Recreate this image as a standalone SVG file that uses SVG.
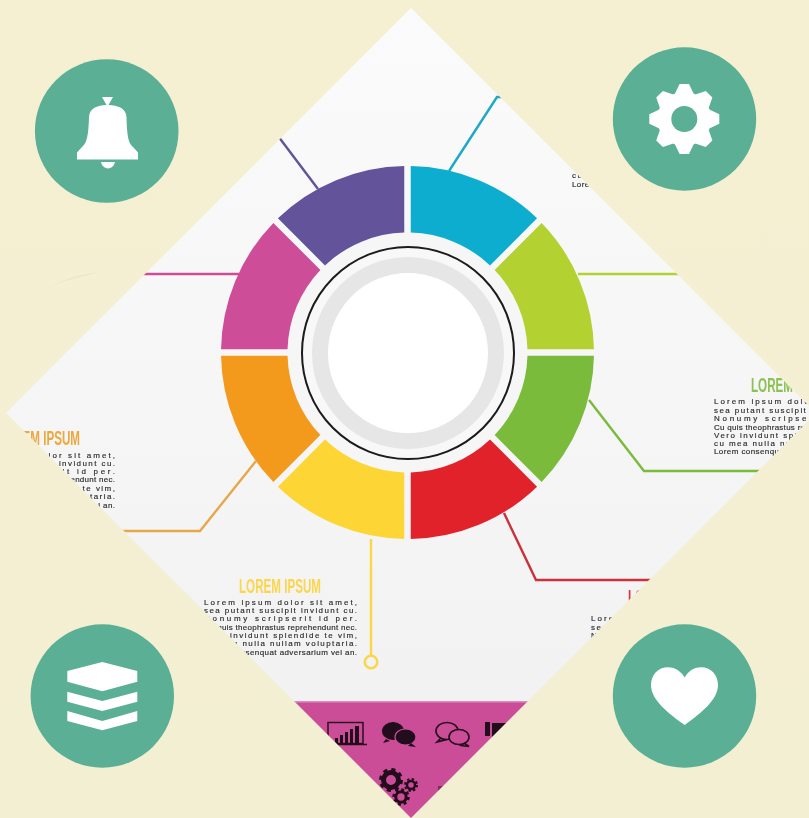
<svg xmlns="http://www.w3.org/2000/svg" width="809" height="818" viewBox="0 0 809 818">
<style>
.disc{fill:#5BAF95}
.glyph{fill:#fff}
.wire{fill:none;stroke-width:2.4}
.t{font-family:"Liberation Sans",Arial,sans-serif;font-size:8px;fill:#2a2a2a;stroke:#2a2a2a;stroke-width:.15}
.h{font-family:"Liberation Sans",Arial,sans-serif;font-size:19.5px;font-weight:bold}
.ic{fill:#24091c}
.ol{fill:#CB4E97;stroke:#24091c;stroke-width:1.6}
</style>
<defs>
<linearGradient id="bg" x1="0" y1="0" x2="0" y2="1"><stop offset="0" stop-color="#F6F0D3"/><stop offset="1" stop-color="#F3EFD2"/></linearGradient>
<linearGradient id="paper" x1="0" y1="0" x2="0" y2="1"><stop offset="0" stop-color="#FBFBFB"/><stop offset="1" stop-color="#F2F2F3"/></linearGradient>
<clipPath id="diamond"><polygon points="411,8 816,413 411,818 6,413"/></clipPath>
<filter id="soft" x="-5%" y="-5%" width="110%" height="110%"><feGaussianBlur stdDeviation="0.45"/></filter>
<path id="seg" d="M3.25,-186.47A186.5,186.5 0 0 1 129.55,-134.15L82.52,-87.12A120,120 0 0 0 3.25,-119.96Z"/>
<polygon id="tooth" points="-9.5,-25 -4.7,-35 4.7,-35 9.5,-25"/>
</defs>
<rect width="809" height="818" fill="url(#bg)"/>
<path d="M48 288Q72 274 100 272Q76 278 62 282Z" fill="#E9E4C6" opacity=".7"/>
<g id="poster" clip-path="url(#diamond)">
<g filter="url(#soft)">
<rect x="0" y="0" width="820" height="702" fill="url(#paper)"/>
<rect x="0" y="701" width="820" height="117" fill="#CB4E97"/>
<rect x="0" y="701" width="820" height="1.5" fill="#E08CBD"/>
<g id="connectors">
<polyline class="wire" stroke="#1FA8C6" points="449,171 497,97 520,97"/>
<polyline class="wire" stroke="#62529B" points="318,189 275,132"/>
<polyline class="wire" stroke="#CD4D98" points="239,274 130,274"/>
<polyline class="wire" stroke="#B3D232" points="578,274 678,274"/>
<polyline class="wire" stroke="#7ABB3A" points="589,400 644,471 780,471"/>
<polyline class="wire" stroke="#C9303A" points="504,513 536,580 670,580"/>
<polyline class="wire" stroke="#FAD64A" stroke-width="2.8" points="371,539 371,655"/>
<polyline class="wire" stroke="#E6A84A" points="256,461 200,531 100,531"/>
</g>
<g id="wheel">
<circle cx="408" cy="353" r="122" fill="#F6F6F6"/>
<use id="seg-cyan" href="#seg" fill="#0FADCF" transform="translate(407.5 352.5)"/>
<use id="seg-lime" href="#seg" fill="#B3D232" transform="translate(407.5 352.5) rotate(45)"/>
<use id="seg-green" href="#seg" fill="#7ABB3A" transform="translate(407.5 352.5) rotate(90)"/>
<use id="seg-red" href="#seg" fill="#E2242B" transform="translate(407.5 352.5) rotate(135)"/>
<use id="seg-yellow" href="#seg" fill="#FDD535" transform="translate(407.5 352.5) rotate(180)"/>
<use id="seg-orange" href="#seg" fill="#F39A1E" transform="translate(407.5 352.5) rotate(225)"/>
<use id="seg-magenta" href="#seg" fill="#CD4D98" transform="translate(407.5 352.5) rotate(270)"/>
<use id="seg-purple" href="#seg" fill="#62529B" transform="translate(407.5 352.5) rotate(315)"/>
</g>
<g id="hub">
<circle cx="408" cy="353" r="106" fill="#F8F8F8" stroke="#1a1a1a" stroke-width="2"/>
<circle cx="408" cy="353" r="88" fill="#fff" stroke="#E6E6E6" stroke-width="16"/>
</g>
<circle id="yellow-end" cx="371" cy="662" r="6.3" fill="none" stroke="#FAD64A" stroke-width="2.5"/>
<g id="block-yellow">
<text class="h" x="239" y="592.5" fill="#FBD64C" textLength="82" lengthAdjust="spacingAndGlyphs">LOREM IPSUM</text>
<text class="t" x="204" y="605" textLength="153">Lorem ipsum dolor sit amet,</text>
<text class="t" x="204" y="613" textLength="153">sea putant suscipit invidunt cu.</text>
<text class="t" x="204" y="621" textLength="153">Nonumy scripserit id per.</text>
<text class="t" x="204" y="630" textLength="153">Cu quis theophrastus reprehendunt nec.</text>
<text class="t" x="204" y="638" textLength="153">Vero invidunt splendide te vim,</text>
<text class="t" x="204" y="646" textLength="153">cu mea nulla nullam voluptaria.</text>
<text class="t" x="204" y="655" textLength="153">Lorem consenquat adversarium vel an.</text>
</g>
<g id="block-orange">
<text class="h" x="-2" y="445" fill="#EDA93C" textLength="82" lengthAdjust="spacingAndGlyphs">LOREM IPSUM</text>
<text class="t" x="-38" y="458" textLength="153">Lorem ipsum dolor sit amet,</text>
<text class="t" x="-38" y="466" textLength="153">sea putant suscipit invidunt cu.</text>
<text class="t" x="-38" y="474" textLength="153">Nonumy scripserit id per.</text>
<text class="t" x="-38" y="482" textLength="153">Cu quis theophrastus reprehendunt nec.</text>
<text class="t" x="-38" y="491" textLength="153">Vero invidunt splendide te vim,</text>
<text class="t" x="-38" y="499" textLength="153">cu mea nulla nullam voluptaria.</text>
<text class="t" x="-38" y="508" textLength="153">Lorem consenquat adversarium vel an.</text>
</g>
<g id="block-green">
<text class="h" x="751" y="392" fill="#8CC152" textLength="82" lengthAdjust="spacingAndGlyphs">LOREM IPSUM</text>
<text class="t" x="714" y="404" textLength="153">Lorem ipsum dolor sit amet,</text>
<text class="t" x="714" y="413" textLength="153">sea putant suscipit invidunt cu.</text>
<text class="t" x="714" y="421" textLength="153">Nonumy scripserit id per.</text>
<text class="t" x="714" y="430" textLength="153">Cu quis theophrastus reprehendunt nec.</text>
<text class="t" x="714" y="438" textLength="153">Vero invidunt splendide te vim,</text>
<text class="t" x="714" y="446" textLength="153">cu mea nulla nullam voluptaria.</text>
<text class="t" x="714" y="454" textLength="153">Lorem consenquat adversarium vel an.</text>
</g>
<g id="block-cyan">
<text class="t" x="572" y="178" textLength="153">cu mea nulla nullam voluptaria.</text>
<text class="t" x="572" y="187" textLength="153">Lorem consenquat adversarium vel an.</text>
</g>
<g id="block-red">
<text class="h" x="628" y="604" fill="#D8343C" textLength="82" lengthAdjust="spacingAndGlyphs">LOREM IPSUM</text>
<text class="t" x="591" y="621" textLength="153">Lorem ipsum dolor sit amet,</text>
<text class="t" x="591" y="630" textLength="153">sea putant suscipit invidunt cu.</text>
<text class="t" x="591" y="638" textLength="153">Nonumy scripserit id per.</text>
</g>
<g id="icon-chart">
<rect x="328" y="722.5" width="35" height="21" fill="none" stroke="#24091c" stroke-width="1.4"/>
<path d="M328 744.500H367" stroke="#24091c" stroke-width="1.4"/>
<path class="ic" d="M335 738h3v6h-3zM340 735h3v9h-3zM345 732h3v12h-3zM350 729h3v15h-3zM355 726h4v18h-4z"/>
</g>
<g id="icon-chat-solid">
<path class="ic" d="M386 739l-3 4 7-2z"/>
<ellipse class="ic" cx="393" cy="731" rx="11" ry="9"/>
<ellipse class="ic" cx="405.500" cy="737" rx="10.500" ry="8" stroke="#CB4E97" stroke-width="1.200"/>
<path class="ic" d="M411 743l5 4-8-1z"/>
</g>
<g id="icon-chat-outline">
<path class="ol" d="M441 738l-4 4 8-2z"/>
<ellipse class="ol" cx="447" cy="731" rx="11" ry="8.500"/>
<path class="ol" d="M464 743l5 3.500-8-1z"/>
<ellipse class="ol" cx="459" cy="737" rx="10" ry="7.500"/>
</g>
<g id="icon-bars">
<rect class="ic" x="485" y="722" width="5" height="14"/>
<rect class="ic" x="492" y="723" width="22" height="22"/>
</g>
<g id="icon-gears" fill="none" stroke="#24091c">
<circle cx="391" cy="780" r="7.500" stroke-width="5"/>
<circle cx="391" cy="780" r="10.500" stroke-width="3" stroke-dasharray="4.100 4.150"/>
<circle cx="411" cy="785" r="4" stroke-width="2.500"/>
<circle cx="411" cy="785" r="6" stroke-width="2" stroke-dasharray="2.400 2.310"/>
<circle cx="401" cy="797" r="5.200" stroke-width="3"/>
<circle cx="401" cy="797" r="7.500" stroke-width="2.500" stroke-dasharray="3 2.890"/>
</g>
<rect id="icon-cut" x="438" y="786" width="12" height="10" fill="#24091c" opacity=".45"/>
</g>
</g>
<g id="bell">
<circle class="disc" cx="106.700" cy="131" r="71.800"/>
<path class="glyph" d="M102 97H113L108.500 105C118 105.500 126 108 126.500 117C127 135 128 143 133 147L138 152.500V159.500H77V152.500L82 147C87 143 88.500 135 89 117C89.500 108 97 105.500 106.500 105Z"/>
<path class="glyph" d="M101 162H115C113 170.500 103 170.500 101 162Z"/>
</g>
<g id="gear">
<circle class="disc" cx="684.500" cy="119" r="71.700"/>
<g class="glyph" transform="translate(684.300 119)">
<circle r="27"/>
<use href="#tooth"/><use href="#tooth" transform="rotate(45)"/><use href="#tooth" transform="rotate(90)"/><use href="#tooth" transform="rotate(135)"/><use href="#tooth" transform="rotate(180)"/><use href="#tooth" transform="rotate(225)"/><use href="#tooth" transform="rotate(270)"/><use href="#tooth" transform="rotate(315)"/>
</g>
<circle class="disc" cx="684.300" cy="119" r="13"/>
</g>
<g id="layers">
<circle class="disc" cx="102.300" cy="696" r="71.700"/>
<polygon class="glyph" points="67.300,671 102.300,662 137.300,671 137.300,681.700 102.300,691.300 67.300,681.700"/>
<polygon class="glyph" points="67.300,691.700 102.300,701 137.300,691.700 137.300,701.700 102.300,711 67.300,701.700"/>
<polygon class="glyph" points="67.300,711 102.300,721 137.300,711 137.300,721 102.300,730.300 67.300,721"/>
</g>
<g id="heart">
<circle class="disc" cx="684.500" cy="696" r="71.700"/>
<path class="glyph" d="M684.700 677.500C680 670 674 667.300 668 667.300C658 667.300 651 675 651 685C651 700 668 713 684.700 725C701 713 718 700 718 685C718 675 711 667.300 701 667.300C695 667.300 689 670 684.700 677.500Z"/>
</g>
</svg>
